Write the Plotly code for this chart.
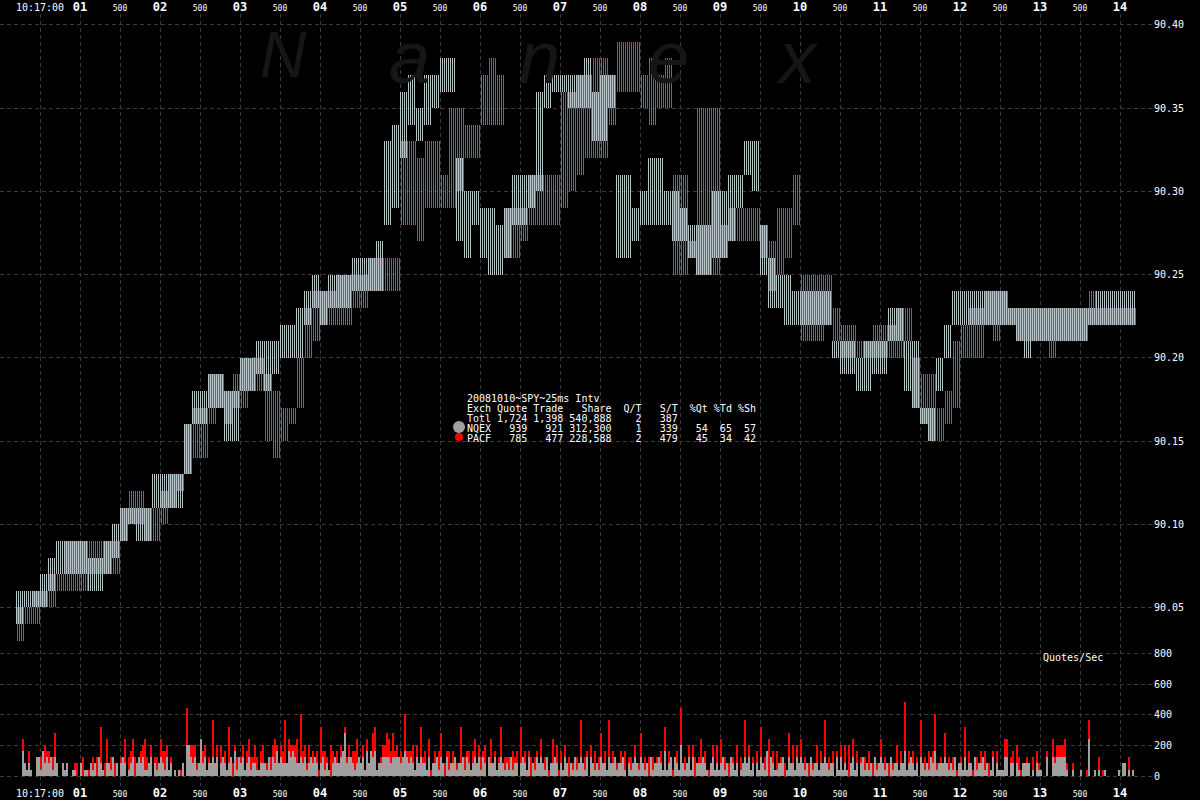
import plotly.graph_objects as go

# ---------------- data ----------------
# Price ranges (bid..ask, in cents above 90.00) read at 100 ms resolution.
# Column k covers 25 ms intervals 4*(COL0+k) .. 4*(COL0+k)+3.
COL0 = 2
grey_lo = [4,5,5,5,6,7,7,7,7,6, 6,7,8,9,10,9,9,11,11,11, 11,13,16,16,17,17,15,15,18,18,
           19,18,19,20,20,20,22,23,22,23, 23,23,24,24,24,24,28,29,32,34, 33,34,35,36,36,27,26,28,26,25,
           25,26,28,28,29,30,35,36,36,35, 35,35,33,33,35,26,26,27,28,28, 28,28,27,27,26,25,25,26,26,27,
           29,31,30,25,23,23,22,22,22,22, 22,22,20,19,19,18,18,19,19,21, 21,18,17,16,15,18,20,22,22,22,
           22,22,22,22,22,21,20,21,21,21, 21,21,21,21,22,22,22,22,22,22]
grey_hi = [6,6,6,7,8,9,9,9,9,8, 8,9,10,11,11,11,11,13,13,13, 13,16,18,18,19,19,18,18,20,20,
           21,21,21,22,22,23,24,25,24,25, 25,25,26,26,26,27,33,34,36,37, 35,37,37,38,38,32,30,30,29,29,
           28,29,31,31,31,36,37,37,37,37, 37,38,36,37,37,31,31,29,30,32, 32,30,30,29,28,28,28,30,30,31,
           31,33,33,28,26,25,25,24,24,24, 24,24,21,21,21,20,21,21,21,23, 23,21,21,17,17,20,22,24,24,24,
           24,24,24,24,23,23,23,23,23,23, 23,23,23,23,23,24,24,24,24,24]
red_lo = [3,4,4,5,5,6,6,6,6,7, 7,7,7,9,10,10,9,9,10,11, 12,13,14,14,16,17,16,17,17,18,
          18,15,14,15,16,17,20,21,22,22, 22,22,23,23,24,24,24,24,28,28, 27,29,29,29,29,30,32,32,34,34,
          34,26,26,27,28,28,28,28,29,30, 31,32,32,32,34,36,36,36,35,34, 35,35,25,25,26,25,25,25,26,27,
          27,27,27,26,24,25,26,28,21,21, 21,22,21,20,20,20,20,20,20,20, 20,21,17,16,15,15,16,17,20,20,
          20,22,21,22,22,21,21,21,21,20, 21,21,21,21,22,22,22,22,22,22]
red_hi = [5,5,6,6,7,7,9,9,9,9, 9,9,9,11,12,12,11,11,12,13, 13,16,17,17,19,19,18,19,20,20,
          20,19,18,17,17,20,23,24,24,24, 25,25,25,25,26,26,26,26,33,33, 32,33,33,31,35,35,34,34,37,38,
          37,29,29,29,31,31,31,31,36,36, 37,37,38,38,37,39,39,39,37,38, 37,38,31,31,27,35,35,35,28,29,
          29,29,29,28,27,29,29,31,25,25, 25,25,23,22,22,21,21,22,22,22, 23,23,20,19,19,17,18,21,22,23,
          23,24,24,24,23,23,23,23,23,23, 23,23,23,23,24,23,23,23,23,23]

# Quotes per 25 ms interval (one string per second, 40 intervals each)
nqex_quotes = [
    "0000000000042121003314232313200212001100",
    "2011021203210221302023201230232311230212",
    "3213120101020553231262312232302321230413",
    "2312312211222131324232224343223231232320",
    "2312102322347233212323142434122333323333",
    "2343232132322130223132031223122313212323",
    "1320322312321213122023213021323213022320",
    "2132021312321303212132213223122310212321",
    "3212031223214123032152123130222321023121",
    "2312032120123231202132140321122301322132",
    "3212031221223212203131210231202312120312",
    "3212031221224123212032121324122232121302",
    "2131220312231201302111330220210222201021",
    "1003003233333100100010006001010010000001",
    "0220101000000000000000000000000000000000",
]
pacf_quotes = [
    "0000000000020020000020312024000000000120",
    "0300102030602402020010402233002252020120",
    "3232010000100602321002201060203020602120",
    "1202321320230102241022702212407221302021",
    "6131052020201120234002020044001224324120",
    "2061213020512031020340213020106021202302",
    "2130040101502120312060201302103020104031",
    "2020301020602102030240206020102030120201",
    "4020302010204020102060202023014020102030",
    "4020201030206020102050206020301020403020",
    "3020201030206020201020305030201020302010",
    "3020201030208020201060203026101040202010",
    "1050201020203020102000330120321001002021",
    "0001003122223100100000013000020100000000",
    "0000200000000000000000000000000000000000",
]

price_ticks = [90.05, 90.10, 90.15, 90.20, 90.25, 90.30, 90.35, 90.40]
quote_ticks = [0, 200, 400, 600, 800]
time_tick_first = "10:17:00"
legend_lines = [
    "20081010~SPY~25ms Intv",
    "Exch Quote Trade   Share  Q/T   S/T  %Qt %Td %Sh",
    "Totl 1,724 1,398 540,888    2   387",
    "NQEX   939   921 312,300    1   339   54  65  57",
    "PACF   785   477 228,588    2   479   45  34  42",
]

# ---------------- geometry ----------------
W, H = 1200, 800
ML, MR, MT, MB = 0, 48, 12, 14
PW, PH = W - ML - MR, H - MT - MB
N_INT = 576                 # 25 ms intervals across the plot
SUB = 4                     # 25 ms intervals per 100 ms column
PRICE_BOTTOM_PX = 650
dom_split = (H - MB - PRICE_BOTTOM_PX) / PH

GREY = "#b6c3c7"
RED = "#e23a3a"
VGREY = "#a0a0a0"
VRED = "#ff0000"
GRID = "#3a3a3a"
MONO = "DejaVu Sans Mono"


def px_x(x):
    return (x - ML) / PW


def px_y(y):
    return (H - MB - y) / PH


def expand(lo, hi):
    xs, base, h = [], [], []
    for k, (a, b) in enumerate(zip(lo, hi)):
        for j in range(SUB):
            xs.append((COL0 + k) * SUB + j)
            base.append(90 + a / 100)
            h.append((b - a) / 100)
    return xs, base, h


fig = go.Figure()

gx, gb, gh = expand(grey_lo, grey_hi)
rx, rb, rh = expand(red_lo, red_hi)
fig.add_trace(go.Bar(x=gx, y=gh, base=gb, offset=0, width=0.5,
                     marker=dict(color=GREY, line=dict(width=0)),
                     xaxis="x", yaxis="y", hoverinfo="skip"))
fig.add_trace(go.Bar(x=rx, y=rh, base=rb, offset=0.5, width=0.5,
                     marker=dict(color=RED, line=dict(width=0)),
                     xaxis="x", yaxis="y", hoverinfo="skip"))

g_vals = [int(ch) for s in nqex_quotes for ch in s]
r_vals = [int(ch) for s in pacf_quotes for ch in s]
vx_g = [i for i, v in enumerate(g_vals) if v > 0 and i < N_INT]
vy_g = [g_vals[i] * 40 for i in vx_g]
vx_r = [i for i, v in enumerate(r_vals) if v > 0 and i < N_INT]
vy_r = [r_vals[i] * 40 for i in vx_r]
vb_r = [g_vals[i] * 40 for i in vx_r]
fig.add_trace(go.Bar(x=vx_g, y=vy_g, offset=0, width=1,
                     marker=dict(color=VGREY, line=dict(width=0)),
                     xaxis="x2", yaxis="y2", hoverinfo="skip"))
fig.add_trace(go.Bar(x=vx_r, y=vy_r, base=vb_r, offset=0, width=1,
                     marker=dict(color=VRED, line=dict(width=0)),
                     xaxis="x2", yaxis="y2", hoverinfo="skip"))

tickvals = list(range(20, 561, 20))
ticktext = []
for t in tickvals:
    if t == 20:
        ticktext.append(time_tick_first)
    elif t % 40 == 0:
        ticktext.append("<b><span style='font-size:12px'>%02d</span></b>" % (t // 40))
    else:
        ticktext.append("<span style='font-size:8px'>500</span>")

xcommon = dict(range=[0, N_INT], tickmode="array", tickvals=tickvals, ticktext=ticktext,
               showgrid=True, gridcolor=GRID, griddash="4px,3px", gridwidth=1,
               zeroline=False, showline=False, ticks="",
               tickfont=dict(family=MONO, size=10, color="#ffffff"))

fig.update_layout(
    width=W, height=H,
    margin=dict(l=ML, r=MR, t=MT, b=MB, pad=0),
    paper_bgcolor="#000000", plot_bgcolor="#000000",
    showlegend=False, barmode="overlay", bargap=0, bargroupgap=0,
    xaxis=dict(**xcommon, side="top", anchor="y"),
    xaxis2=dict(**xcommon, side="bottom", anchor="y2", matches="x"),
    yaxis=dict(domain=[dom_split, 1], range=[90.40 - (PRICE_BOTTOM_PX - 23) * 0.05 / 83.43,
                                             90.40 + (23 - MT) * 0.05 / 83.43],
               side="right", anchor="x", tickmode="array", tickvals=price_ticks,
               ticktext=["%.2f" % v for v in price_ticks],
               showgrid=True, gridcolor=GRID, griddash="4px,3px", zeroline=False,
               ticks="", ticklabelstandoff=1,
               tickfont=dict(family=MONO, size=10, color="#ffffff")),
    yaxis2=dict(domain=[0, dom_split], range=[-(H - MB - 776) * 800 / 123, 800 + 3 * 800 / 123],
                side="right", anchor="x2", tickmode="array", tickvals=quote_ticks,
                ticktext=[str(v) for v in quote_ticks],
                showgrid=True, gridcolor=GRID, griddash="4px,3px", zeroline=False,
                ticks="", ticklabelstandoff=1,
                tickfont=dict(family=MONO, size=10, color="#ffffff")),
)

# watermark
WM_FONT = "Liberation Sans Narrow, Liberation Sans, DejaVu Sans"
wm = [("N", 283, 53, 64), ("a", 409, 56, 74), ("n", 539, 56, 74), ("e", 668, 56, 74), ("x", 797, 56, 74)]
for ch, cx, cy, fs in wm:
    fig.add_annotation(xref="paper", yref="paper", x=px_x(cx), y=px_y(cy),
                       text="<i>%s</i>" % ch, showarrow=False, xanchor="center", yanchor="middle",
                       borderpad=0, font=dict(family=WM_FONT, size=fs, color="#161616"))

# stats box
for k, line in enumerate(legend_lines):
    fig.add_annotation(xref="paper", yref="paper", x=px_x(466), y=px_y(397.5 + 10 * k),
                       text=line.replace(" ", "&nbsp;"), showarrow=False,
                       xanchor="left", yanchor="middle", borderpad=0,
                       font=dict(family=MONO, size=10, color="#ffffff"))
fig.add_shape(type="circle", xref="paper", yref="paper",
              x0=px_x(453), x1=px_x(465), y0=px_y(432), y1=px_y(420),
              fillcolor="#a0a0a0", line=dict(width=0))
fig.add_shape(type="circle", xref="paper", yref="paper",
              x0=px_x(455), x1=px_x(463), y0=px_y(440), y1=px_y(432),
              fillcolor="#ff0000", line=dict(width=0))

fig.add_annotation(xref="paper", yref="paper", x=px_x(1042), y=px_y(657),
                   text="Quotes/Sec", showarrow=False, xanchor="left", yanchor="middle",
                   borderpad=0, font=dict(family=MONO, size=10, color="#ffffff"))

fig.write_html("out.html", config={"displayModeBar": False},
               post_script="document.body.style.margin='0px';document.body.style.padding='0px';"
                           "document.body.style.overflow='hidden';")
